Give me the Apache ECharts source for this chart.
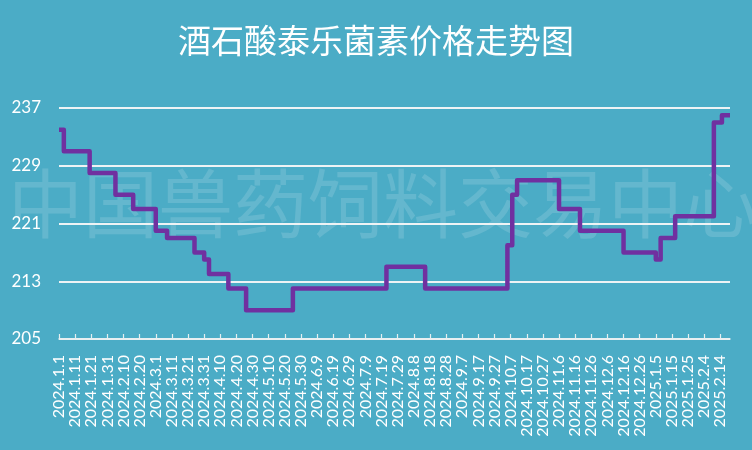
<!DOCTYPE html>
<html>
<head>
<meta charset="utf-8">
<script src="https://cdn.jsdelivr.net/npm/echarts@6/dist/echarts.min.js"></script>
<style>
html,body{margin:0;padding:0;background:#4BACC6;}
#chart{width:752px;height:450px;}
</style>
</head>
<body>
<div id="chart"></div>
<script>
// Dates on which the price changed, and the price from that date on
var changeDates = ["2024.1.1","2024.1.4","2024.1.20","2024.2.5","2024.2.16","2024.3.1","2024.3.8","2024.3.25","2024.3.31","2024.4.3","2024.4.15","2024.4.26","2024.5.25","2024.7.22","2024.8.15","2024.10.5","2024.10.8","2024.10.11","2024.11.6","2024.11.19","2024.12.16","2025.1.5","2025.1.8","2025.1.17","2025.2.10","2025.2.15","2025.2.20"];
var prices = [234,231,228,225,223,220,219,217,216,214,212,209,212,215,212,218,225,227,223,220,217,216,219,222,235,236,236];
// x axis tick labels
var tickLabels = ["2024.1.1","2024.1.11","2024.1.21","2024.1.31","2024.2.10","2024.2.20","2024.3.1","2024.3.11","2024.3.21","2024.3.31","2024.4.10","2024.4.20","2024.4.30","2024.5.10","2024.5.20","2024.5.30","2024.6.9","2024.6.19","2024.6.29","2024.7.9","2024.7.19","2024.7.29","2024.8.8","2024.8.18","2024.8.28","2024.9.7","2024.9.17","2024.9.27","2024.10.7","2024.10.17","2024.10.27","2024.11.6","2024.11.16","2024.11.26","2024.12.6","2024.12.16","2024.12.26","2025.1.5","2025.1.15","2025.1.25","2025.2.4","2025.2.14"];
var yTicks = [205,213,221,229,237];
var title = "酒石酸泰乐菌素价格走势图";
var watermark = "中国兽药饲料交易中心";

function dayIndex(s){
  var p = s.split('.').map(Number);
  return Math.round((Date.UTC(p[0],p[1]-1,p[2]) - Date.UTC(2024,0,1)) / 86400000);
}
var tickDays = tickLabels.map(dayIndex);
var labelByDay = {};
tickDays.forEach(function(d,i){ labelByDay[d] = tickLabels[i]; });
var seriesData = changeDates.map(function(s,i){ return [dayIndex(s), prices[i]]; });
var lastDay = dayIndex(changeDates[changeDates.length-1]);

var chart = echarts.init(document.getElementById('chart'));
chart.setOption({
  backgroundColor: '#4BACC6',
  animation: false,
  title: {
    text: title,
    left: 'center',
    top: 19,
    textStyle: {color:'#ffffff', fontSize:33, fontWeight:'normal', fontFamily:'"Noto Sans CJK SC", sans-serif'}
  },
  graphic: [{
    type: 'text',
    x: 8, y: 203,
    z: 0,
    style: {
      text: watermark,
      fill: 'rgba(255,255,255,0.14)',
      font: '75px "Noto Sans CJK SC"',
      textVerticalAlign: 'middle'
    }
  }],
  grid: {left:59, right:22, top:108, bottom:111, containLabel:false},
  xAxis: {
    type: 'value',
    min: 0,
    max: lastDay,
    splitLine: {show:false},
    axisLine: {show:true, lineStyle:{color:'#e6eef0', width:1.5}},
    axisTick: {show:true, inside:true, length:5, customValues: tickDays, lineStyle:{color:'#e6eef0', width:1.2}},
    axisLabel: {
      customValues: tickDays,
      rotate: 90,
      margin: 16,
      color: '#ffffff',
      fontSize: 16,
      fontFamily: 'Lato, "Open Sans", sans-serif',
      formatter: function(v){ return labelByDay[v] || ''; }
    }
  },
  yAxis: {
    type: 'value',
    min: yTicks[0],
    max: yTicks[yTicks.length-1],
    interval: yTicks[1]-yTicks[0],
    axisLine: {show:false},
    axisTick: {show:false},
    splitLine: {show:true, lineStyle:{color:'#eef3f5', width:1.8}},
    axisLabel: {color:'#ffffff', fontSize:17, margin:18, fontFamily:'Lato, "Open Sans", sans-serif'}
  },
  series: [{
    type: 'line',
    step: 'end',
    showSymbol: false,
    data: seriesData,
    z: 5,
    lineStyle: {color:'#7030A0', width:4.5, join:'round'}
  }]
});
</script>
</body>
</html>
